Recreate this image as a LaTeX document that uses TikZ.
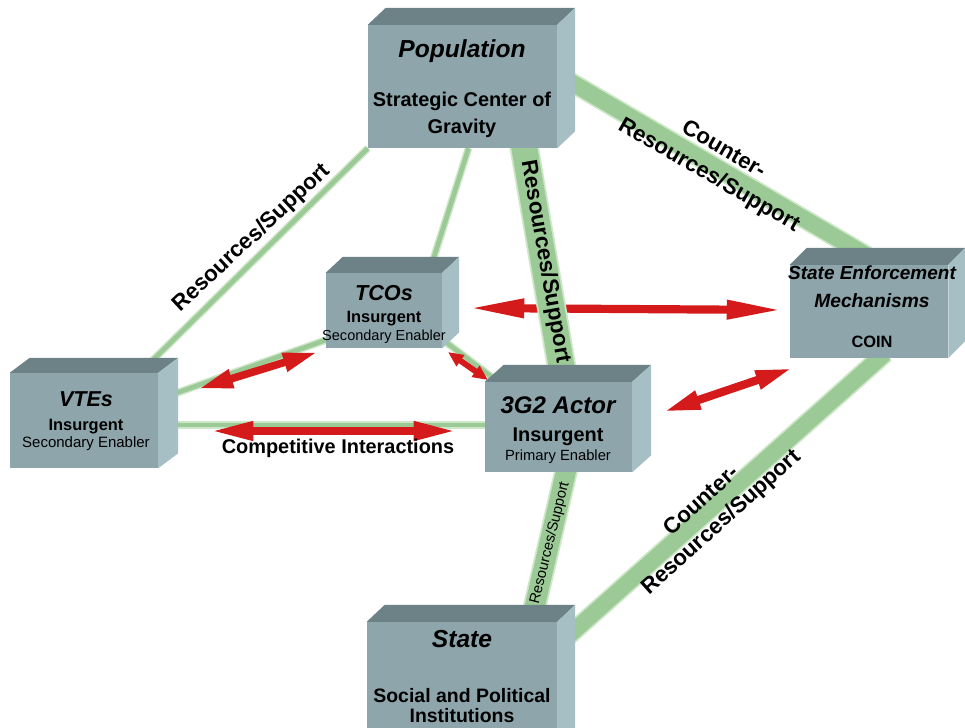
\documentclass[tikz,border=0pt]{standalone}
\usepackage{fontspec}
\setmainfont{Liberation Sans}
\usetikzlibrary{arrows.meta,calc}
\definecolor{frontc}{RGB}{141,165,171}
\definecolor{topc}{RGB}{108,130,135}
\definecolor{sidec}{RGB}{166,191,197}
\definecolor{bandc}{RGB}{156,202,150}
\definecolor{bandglow}{RGB}{206,231,201}
\definecolor{arrred}{RGB}{212,26,26}
\pgfdeclarelayer{bg}
\pgfsetlayers{bg,main}
\begin{document}
\begin{tikzpicture}[x=0.03cm,y=-0.03cm,
  box/.style={fill=frontc, inner sep=0pt, draw=none},
  bnd/.style 2 args={draw=bandc, line width=#1, preaction={draw=bandglow, line width=#2}},
  arr/.style={draw=arrred},
  ti/.style={font=\fontsize{#1}{#1}\selectfont\bfseries\itshape, inner sep=0pt, anchor=base},
  tb/.style={font=\fontsize{#1}{#1}\selectfont\bfseries, inner sep=0pt, anchor=base},
  tr/.style={font=\fontsize{#1}{#1}\selectfont, inner sep=0pt, anchor=base},
  lab/.style={font=\fontsize{19}{25}\selectfont\bfseries, inner sep=0pt, align=center},
]
\clip (0,0) rectangle (965,727);

% boxes (front faces)
\node[box, minimum width=5.67cm, minimum height=3.69cm] (pop) at (462.5,86.5) {};
\node[box, minimum width=3.48cm, minimum height=2.25cm] (tco) at (384,310.5) {};
\node[box, minimum width=4.44cm, minimum height=2.85cm] (vte) at (84,420.5) {};
\node[box, minimum width=4.41cm, minimum height=2.70cm] (actor) at (558.5,427) {};
\node[box, minimum width=4.74cm, minimum height=2.79cm] (sem) at (869,311.5) {};
\node[box, minimum width=5.70cm, minimum height=4.14cm] (state) at (462,691) {};

\foreach \n/\dx/\dy in {pop/18/17, tco/17/16, vte/20/15, actor/19/17, sem/17/17, state/18/17}{
  \fill[topc] (\n.north west) -- ++(\dx,-\dy) -- ($(\n.north east)+(\dx,-\dy)$) -- (\n.north east) -- cycle;
  \fill[sidec] (\n.north east) -- ++(\dx,-\dy) -- ($(\n.south east)+(\dx,-\dy)$) -- (\n.south east) -- cycle;
}

% arrow end points
\coordinate (a1s) at (468,308); \coordinate (a1e) at (783,310);
\coordinate (a2s) at (198,389); \coordinate (a2e) at (318,352);
\coordinate (a3s) at (210,431); \coordinate (a3e) at (457,431);
\coordinate (a4s) at (448,352); \coordinate (a4e) at (488,380);
\coordinate (a5s) at (663,412); \coordinate (a5e) at (793,368);

\begin{pgfonlayer}{bg}
  \fill[white] (0,0) rectangle (965,727);
  % thin links
  \draw[bnd={4pt}{6.5pt}] (pop.south west) -- ($(vte.north)+(56,0)$);
  \draw[bnd={4pt}{6.5pt}] ($(pop.south)+(6,0)$) -- ($(tco.north)+(45,0)$);
  \draw[bnd={4pt}{6.5pt}] ($(vte.east)+(7,-23.5)$) -- ($(tco.south west)+(5,-10)$);
  \draw[bnd={4pt}{6.5pt}] ($(vte.east)+(0,4.5)$) -- ($(actor.west)+(0,-2)$);
  \draw[bnd={4pt}{6.5pt}] ($(tco.south east)+(5,-5)$) -- ($(actor.north west)+(8,-4)$);
  % red arrows
  \draw[arr, line width=7pt, {Triangle[length=48pt,width=15pt]}-{Triangle[length=48pt,width=15pt]}] (a1s) -- (a1e);
  \draw[arr, line width=6.5pt, {Triangle[length=30pt,width=15pt]}-{Triangle[length=30pt,width=15pt]}] (a2s) -- (a2e);
  \draw[arr, line width=7pt, {Triangle[length=37pt,width=15pt]}-{Triangle[length=37pt,width=15pt]}] (a3s) -- (a3e);
  \draw[arr, line width=5pt, {Triangle[length=13pt,width=11pt]}-{Triangle[length=13pt,width=11pt]}] (a4s) -- (a4e);
  \draw[arr, line width=7pt, {Triangle[length=32pt,width=15pt]}-{Triangle[length=32pt,width=15pt]}] (a5s) -- (a5e);
  % wide bands
  \draw[bnd={22pt}{25pt}] ($(pop.south)+(61,-5)$) -- ($(actor.north)+(6.5,5)$);
  \draw[bnd={14pt}{17pt}] ($(pop.east)+(10,-6.5)$) -- ($(sem.north)+(-2,-9)$);
  \draw[bnd={14pt}{17pt}] ($(state.north east)+(10,15)$) -- ($(sem.south)+(16,-5)$);
  \draw[bnd={17pt}{20pt}] ($(actor.south)+(8,-3)$) -- ($(state.north)+(68,5)$);
  % band labels
  \node[lab, rotate=43] (l1) at (252,238) {Resources/Support};
  \node[lab, rotate=-80] (l2) at (545,262) {Resources/Support};
  \node[lab, rotate=-30] (l3) at (716,163) {Counter-\\Resources/Support};
  \node[lab, rotate=42] (l4) at (712,512) {Counter-\\Resources/Support};
  \node[font=\fontsize{12.5}{12.5}\selectfont, inner sep=0pt, rotate=76] (l5) at (550,543) {Resources/Support};
\end{pgfonlayer}

% box texts
\node[ti=21] (popa) at (462,57) {Population};
\node[tb=17] (popb) at (462,106) {Strategic Center of};
\node[tb=17] (popc) at (462,133) {Gravity};

\node[ti=18.5] (tcoa) at (384,300) {TCOs};
\node[tb=14] (tcob) at (384,322) {Insurgent};
\node[tr=12.4] (tcoc) at (384,340) {Secondary Enabler};

\node[ti=18.4] (vtea) at (86,406) {VTEs};
\node[tb=14] (vteb) at (86,430) {Insurgent};
\node[tr=12.8] (vtec) at (86,447) {Secondary Enabler};

\node[ti=20.5] (acta) at (558,413) {3G2 Actor};
\node[tb=17] (actb) at (558,441) {Insurgent};
\node[tr=12.6] (actc) at (558,460) {Primary Enabler};

\node[ti=16.2] (sema) at (872,279) {State Enforcement};
\node[ti=16.4] (semb) at (872,307) {Mechanisms};
\node[tb=14] (semc) at (872,347) {COIN};

\node[ti=21] (sta) at (462,647) {State};
\node[tb=16.6] (stb) at (462,702) {Social and Political};
\node[tb=16.6] (stc) at (462,722) {Institutions};

\node[tb=17] (comp) at (338,453) {Competitive Interactions};
\end{tikzpicture}
\end{document}
